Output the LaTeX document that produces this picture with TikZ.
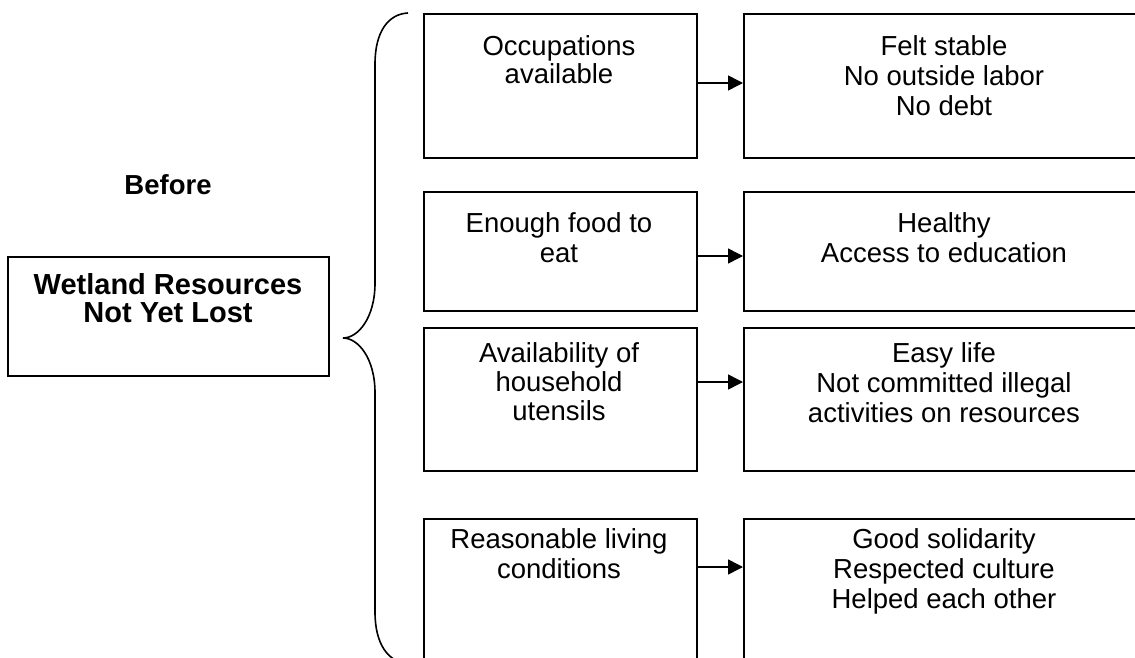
\documentclass[tikz,border=0pt]{standalone}
\usepackage{fontspec}
\setmainfont{Liberation Sans}
\usetikzlibrary{arrows.meta}
\begin{document}
\begin{tikzpicture}[x=1pt,y=-1pt,
  box/.style={draw=black,line width=1.8pt,rectangle,inner sep=0pt,anchor=north west},
  txt/.style={anchor=north,inner sep=0pt,align=center,font=\fontsize{27.5}{30}\selectfont},
  btxt/.style={txt,font=\fontsize{29}{28.5}\selectfont\bfseries},
  arr/.style={line width=1.5pt,-{Triangle[length=15pt,width=15pt]}},
  brace/.style={line width=1.6pt}]
\useasboundingbox (0,0) rectangle (1135,658);
\clip (0,0) rectangle (1135,658);
% left box
\node[box,minimum width=321pt,minimum height=119pt] (W) at (7,256) {};
\node[btxt] (Wt) at (168,273) {Wetland Resources\\Not Yet Lost};
\node[txt,anchor=center,font=\fontsize{27.5}{30}\selectfont\bfseries] (B) at (168,185) {Before};
% brace
\draw[brace] (408,13) .. controls (388,14) and (375,32) .. (375,64)
  -- (375,283) .. controls (375,318) and (358,338) .. (343,338)
  .. controls (358,338) and (375,358) .. (375,393)
  -- (375,612) .. controls (375,644) and (388,662) .. (408,664);
% left column boxes
\node[box,minimum width=273pt,minimum height=144pt] (L1) at (423,13) {};
\node[box,minimum width=273pt,minimum height=119pt] (L2) at (423,191) {};
\node[box,minimum width=273pt,minimum height=143pt] (L3) at (423,327) {};
\node[box,minimum width=273pt,minimum height=160pt] (L4) at (423,518) {};
% right column boxes
\node[box,minimum width=402pt,minimum height=144pt] (R1) at (743,13) {};
\node[box,minimum width=402pt,minimum height=119pt] (R2) at (743,191) {};
\node[box,minimum width=402pt,minimum height=143pt] (R3) at (743,327) {};
\node[box,minimum width=402pt,minimum height=160pt] (R4) at (743,518) {};
% texts
\node[txt,font=\fontsize{27.5}{28.5}\selectfont] (L1t) at (559,35) {Occupations\\available};
\node[txt] (L2t) at (559,212) {Enough food to\\eat};
\node[txt,font=\fontsize{27.5}{29}\selectfont] (L3t) at (559,342) {Availability of\\household\\utensils};
\node[txt] (L4t) at (559,528) {Reasonable living\\conditions};
\node[txt] (R1t) at (944,35) {Felt stable\\No outside labor\\No debt};
\node[txt] (R2t) at (944,212) {Healthy\\Access to education};
\node[txt] (R3t) at (944,342) {Easy life\\Not committed illegal\\activities on resources};
\node[txt] (R4t) at (944,528) {Good solidarity\\Respected culture\\Helped each other};
% arrows
\coordinate (a1) at (0,83);
\coordinate (a2) at (0,256);
\coordinate (a3) at (0,382);
\coordinate (a4) at (0,567);
\draw[arr] (L1.east |- a1) -- (R1.west |- a1);
\draw[arr] (L2.east |- a2) -- (R2.west |- a2);
\draw[arr] (L3.east |- a3) -- (R3.west |- a3);
\draw[arr] (L4.east |- a4) -- (R4.west |- a4);
\end{tikzpicture}
\end{document}
